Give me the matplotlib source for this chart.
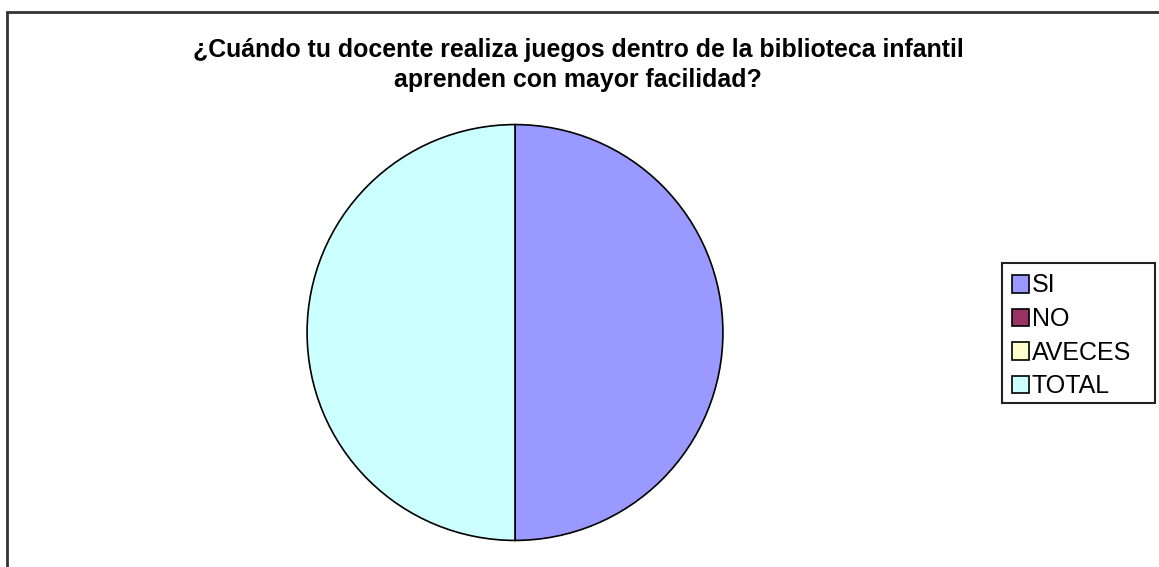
import matplotlib
matplotlib.use("Agg")
import matplotlib.pyplot as plt
from matplotlib.patches import Rectangle, Patch

labels = ["SI", "NO", "AVECES", "TOTAL"]
values = [30, 0, 0, 30]
colors = ["#9999FF", "#993366", "#FFFFCC", "#CCFFFF"]
title_lines = ["¿Cuándo tu docente realiza juegos dentro de la biblioteca infantil",
               "aprenden con mayor facilidad?"]

plt.rcParams["font.family"] = ["Liberation Sans", "DejaVu Sans"]

W, H = 1159, 567
fig = plt.figure(figsize=(W / 100, H / 100), dpi=100)

# outer chart frame (cut off at right and bottom like the screenshot)
fig.patches.append(Rectangle((7 / W, -0.1), 1.2, 1 - 12 / H + 0.1,
                             transform=fig.transFigure, fill=False,
                             edgecolor="#333333", linewidth=2))

ax = fig.add_axes([305 / W, (H - 543) / H, 420 / W, 421 / H])
ax.pie(values, colors=colors, startangle=90, counterclock=False,
       wedgeprops=dict(edgecolor="black", linewidth=1.2), radius=1)
ax.set_xlim(-1.01, 1.01)
ax.set_ylim(-1.01, 1.01)
ax.set_aspect("equal")
ax.axis("off")

for line, base in zip(title_lines, [57, 87]):
    fig.text(578 / W, 1 - base / H, line, ha="center", va="baseline",
             fontsize=17.9, fontweight="bold")

# legend box
fig.patches.append(Rectangle((1002 / W, 1 - 403 / H), 153 / W, 140 / H,
                             transform=fig.transFigure, fill=False,
                             edgecolor="#222222", linewidth=1.5))
handles = [Patch(facecolor=c, edgecolor="black", linewidth=1.2) for c in colors]
leg = fig.legend(handles, labels, loc="upper left",
                 bbox_to_anchor=(1004 / W, 1 - 266 / H), borderaxespad=0,
                 fontsize=18, handlelength=0.7, handleheight=0.7,
                 handletextpad=0.1, labelspacing=0.38, borderpad=0.3,
                 frameon=False)

fig.savefig("out.png", dpi=100)
